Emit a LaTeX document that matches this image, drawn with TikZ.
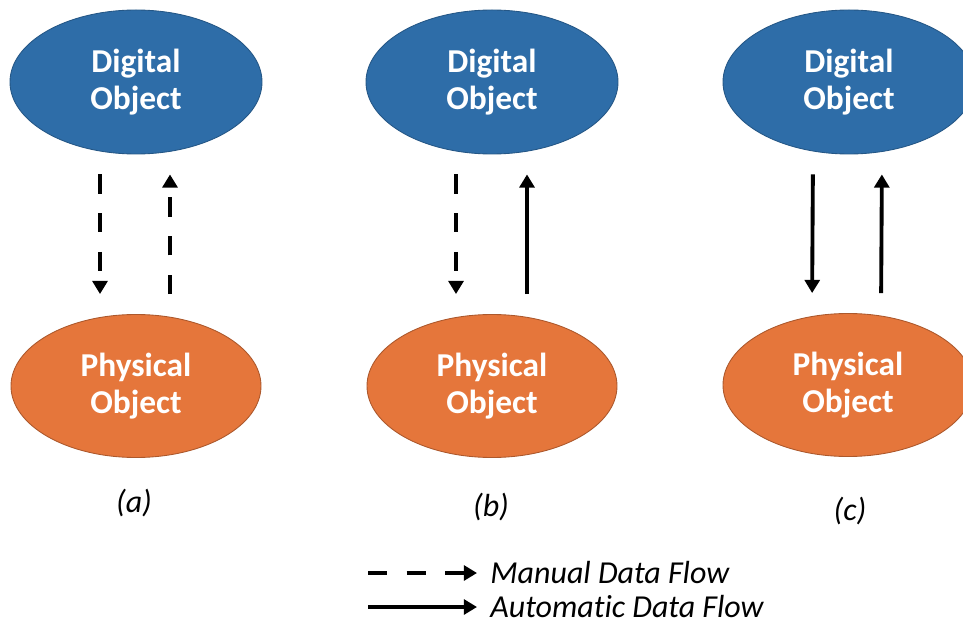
\documentclass[tikz,border=0pt]{standalone}
\usepackage{fontspec}
\setmainfont{Carlito}[Ligatures=NoCommon]
\usetikzlibrary{shapes.geometric, arrows.meta}

\definecolor{objblue}{RGB}{46,109,168}
\definecolor{objorange}{RGB}{229,118,59}

\begin{document}
\begin{tikzpicture}[
    objtext/.style={font=\bfseries\fontsize{19}{21.5}\selectfont, text=white, align=center},
    digital/.style={ellipse, objtext, draw=objblue!80!black, line width=0.5pt, fill=objblue,
        minimum width=5.04cm, minimum height=2.88cm, inner sep=0pt},
    physical/.style={ellipse, objtext, draw=objorange!75!black, line width=0.5pt, fill=objorange,
        minimum width=5.0cm, minimum height=2.86cm, inner sep=0pt},
    tip/.style={-{Triangle[length=7.5pt,width=8.5pt]}},
    manual/.style={tip, line width=2.2pt, dash pattern=on 11pt off 11pt},
    automatic/.style={tip, line width=2.2pt},
    flow/.style={shorten <=0.4cm, shorten >=0.4cm},
    caption/.style={font=\itshape\fontsize{18.2}{21.5}\selectfont}
]
    \useasboundingbox (0,0) rectangle (19.26,12.52);

    % Draw nodes
    \node[digital] (d1) at (2.72,10.88) {Digital\\Object};
    \node[digital] (d2) at (9.84,10.88) {Digital\\Object};
    \node[digital] (d3) at (16.98,10.88) {Digital\\Object};
    \node[physical] (p1) at (2.72,4.80) {Physical\\Object};
    \node[physical] (p2) at (9.84,4.80) {Physical\\Object};
    \node[physical] (p3) at (16.96,4.82) {Physical\\Object};

    % Draw connections
    \draw[manual, flow] ([xshift=-0.72cm]d1.south) -- ([xshift=-0.72cm]p1.north);
    \draw[manual, flow] ([xshift=0.68cm]p1.north) -- ([xshift=0.68cm]d1.south);
    \draw[manual, flow] ([xshift=-0.72cm]d2.south) -- ([xshift=-0.72cm]p2.north);
    \draw[automatic, flow] ([xshift=0.70cm]p2.north) -- ([xshift=0.70cm]d2.south);
    \draw[automatic, flow] ([xshift=-0.72cm]d3.south) -- ([xshift=-0.72cm]p3.north);
    \draw[automatic, flow] ([xshift=0.66cm]p3.north) -- ([xshift=0.66cm]d3.south);

    % Labels
    \node[caption] (la) at (2.68,2.46) {(a)};
    \node[caption] (lb) at (9.82,2.38) {(b)};
    \node[caption] (lc) at (17.0,2.30) {(c)};

    % Legend
    \coordinate (m0) at (7.36,1.06);
    \coordinate (a0) at (7.36,0.38);
    \node[caption, anchor=west, inner sep=0pt] (ml) at (9.8,1.06) {Manual Data Flow};
    \node[caption, anchor=west, inner sep=0pt] (al) at (9.8,0.38) {Automatic Data Flow};
    \draw[manual, shorten >=0.26cm] (m0) -- (ml.west);
    \draw[automatic, shorten >=0.26cm] (a0) -- (al.west);
\end{tikzpicture}
\end{document}
